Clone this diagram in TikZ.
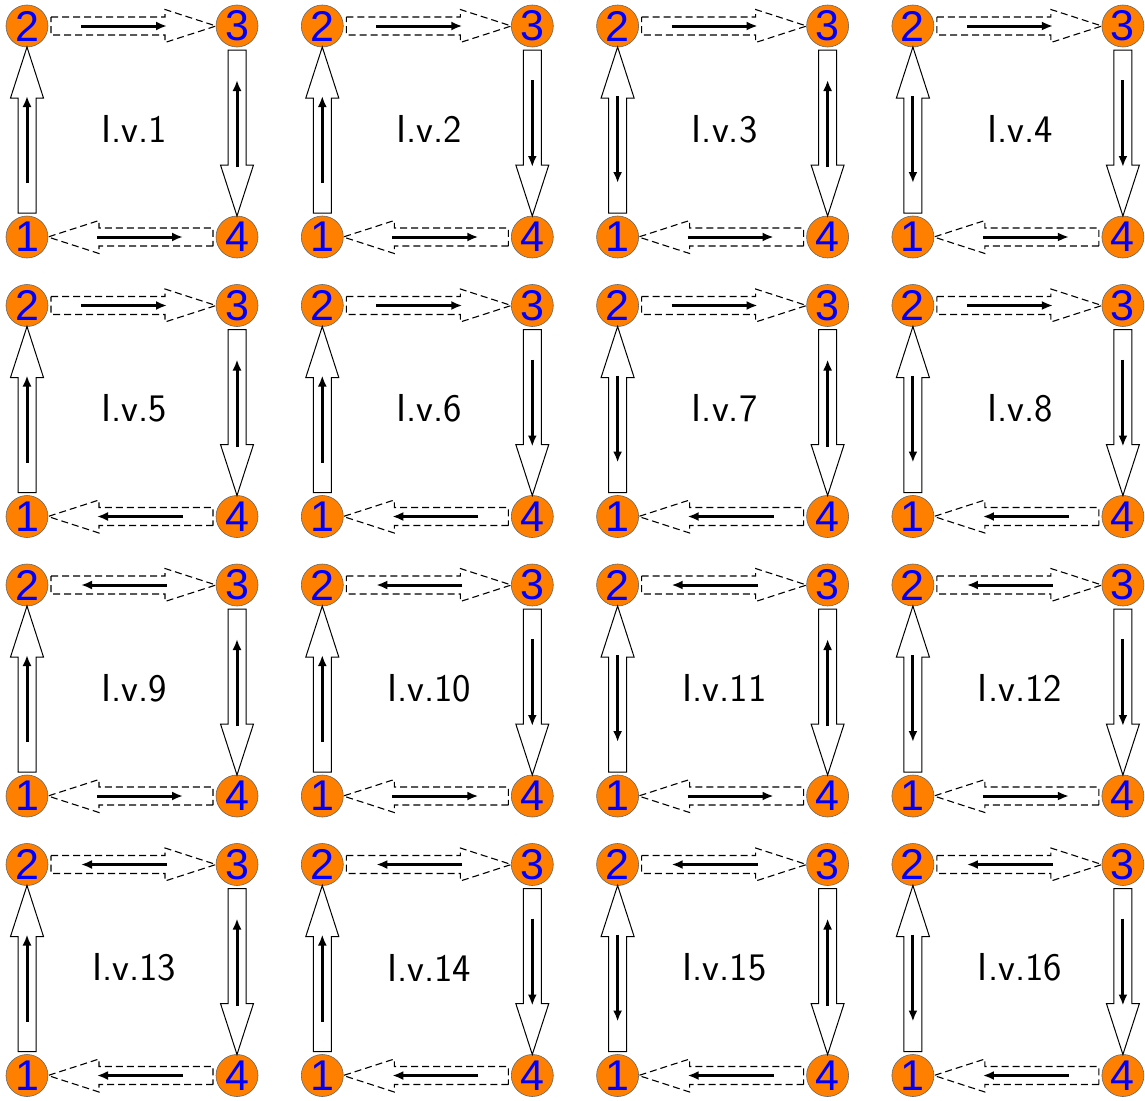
\documentclass[tikz,border=0pt]{standalone}
\usepackage{fontspec}
\newfontfamily\digitfont{Liberation Sans}
\usetikzlibrary{calc,arrows.meta}
\definecolor{vorange}{HTML}{FF8000}
\definecolor{vblue}{HTML}{0000FF}
\tikzset{
  vert/.style={circle,draw=black!60,line width=0.6pt,fill=vorange,minimum size=42pt,inner sep=0pt,
    text=vblue,font={\digitfont\fontsize{43}{43}\selectfont}},
  bigarrow/.style={draw=black,line width=1pt,fill=white,line join=miter},
  dashedarrow/.style={bigarrow,line width=1.1pt,dash pattern=on 7pt off 4pt},
  solidarrow/.style={bigarrow},
  smallarrow/.style={line width=3pt,-{Latex[length=11pt,width=9pt]}},
  celllabel/.style={font={\sffamily\fontsize{39}{39}\selectfont}}
}
% #1 from, #2 to, #3 style, #4 1=small forward, 0=backward
\newcommand\hollowarrow[4]{%
  \coordinate (S) at ($(#1)!24pt!(#2)$);
  \coordinate (T) at ($(#2)!21pt!(#1)$);
  \coordinate (H) at ($(T)!51pt!(S)$);
  \draw[#3] ($(S)!9pt!90:(T)$) -- ($(H)!9pt!90:(T)$) -- ($(H)!16.5pt!90:(T)$) -- (T)
     -- ($(H)!16.5pt!-90:(T)$) -- ($(H)!9pt!-90:(T)$) -- ($(S)!9pt!-90:(T)$) -- cycle;
  \coordinate (P1) at ($(S)!30pt!(T)$);
  \coordinate (P2) at ($(H)!2pt!(T)$);
  \ifnum#4=1 \draw[smallarrow] (P1) -- (P2);\else \draw[smallarrow] (P2) -- (P1);\fi
}
\begin{document}
\begin{tikzpicture}[x=1pt,y=-1pt]
\useasboundingbox (0,0) rectangle (1145,1100);
\foreach \n in {1,...,16}{
  \pgfmathtruncatemacro\k{\n-1}
  \pgfmathtruncatemacro\col{mod(\k,4)}
  \pgfmathtruncatemacro\row{floor(\k/4)}
  \pgfmathtruncatemacro\ba{mod(\k,2)}
  \pgfmathtruncatemacro\bb{1-mod(floor(\k/2),2)}
  \pgfmathtruncatemacro\bc{mod(floor(\k/4),2)}
  \pgfmathtruncatemacro\bd{1-mod(floor(\k/8),2)}
  \begin{scope}[shift={(\col*295.3,\row*279.5)}]
    \node[vert] (c\n a) at (27,237) {1};
    \node[vert] (c\n b) at (27,26) {2};
    \node[vert] (c\n c) at (237,26) {3};
    \node[vert] (c\n d) at (237,237) {4};
    \node[celllabel] (c\n l) at (134,129) {I.v.\n};
    \hollowarrow{c\n a}{c\n b}{solidarrow}{\bb}
    \hollowarrow{c\n b}{c\n c}{dashedarrow}{\bd}
    \hollowarrow{c\n c}{c\n d}{solidarrow}{\ba}
    \hollowarrow{c\n d}{c\n a}{dashedarrow}{\bc}
  \end{scope}
}
\end{tikzpicture}
\end{document}
